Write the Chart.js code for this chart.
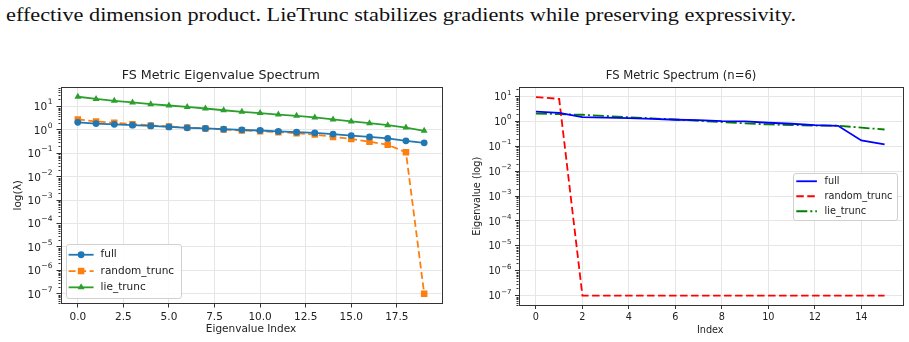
<!DOCTYPE html>
<html>
<head>
<meta charset="utf-8">
<script src="https://cdn.jsdelivr.net/npm/chart.js@4.4.0/dist/chart.umd.min.js"></script>
<style>
	html, body { margin: 0; padding: 0; background: #fff; }
	body { width: 909px; height: 342px; position: relative; overflow: hidden; }
	#caption { position: absolute; left: 6px; top: 4px; font-family: "Liberation Serif", "DejaVu Serif", serif; font-size: 19px; color: #111; white-space: nowrap; transform-origin: 0 0; }
	.box { position: absolute; top: 60px; height: 282px; }
	#left-box { left: 0; width: 460px; }
	#right-box { left: 460px; width: 449px; }
</style>
</head>
<body>
<div id="caption">effective dimension product. LieTrunc stabilizes gradients while preserving expressivity.</div>
<div class="box" id="left-box"><canvas id="spectrum-chart"></canvas></div>
<div class="box" id="right-box"><canvas id="n6-chart"></canvas></div>
<script>
// left panel: FS Metric Eigenvalue Spectrum
var leftIndex = [0, 1, 2, 3, 4, 5, 6, 7, 8, 9, 10, 11, 12, 13, 14, 15, 16, 17, 18, 19];
var leftFull = [2.1, 1.85, 1.72, 1.58, 1.47, 1.34, 1.22, 1.15, 1.07, 1.0, 0.94, 0.86, 0.8, 0.74, 0.66, 0.57, 0.5, 0.43, 0.34, 0.28];
var leftRandom = [2.8, 2.3, 2.0, 1.75, 1.55, 1.4, 1.25, 1.15, 1.03, 0.94, 0.87, 0.8, 0.72, 0.63, 0.5, 0.41, 0.31, 0.23, 0.11, 1e-7];
var leftLie = [26, 21, 17.4, 14.8, 12.5, 11, 9.6, 8.2, 6.9, 5.9, 5.2, 4.5, 4.0, 3.4, 2.8, 2.3, 1.94, 1.58, 1.26, 0.91];
var leftXTicks = [0, 2.5, 5, 7.5, 10, 12.5, 15, 17.5];

// right panel: FS Metric Spectrum (n=6)
var rightIndex = [0, 1, 2, 3, 4, 5, 6, 7, 8, 9, 10, 11, 12, 13, 14, 15];
var rightFull = [2.45, 2.2, 1.48, 1.42, 1.34, 1.25, 1.16, 1.12, 1.02, 1.0, 0.88, 0.8, 0.7, 0.66, 0.17, 0.12];
var rightRandom = [9.5, 8.0, 1e-7, 1e-7, 1e-7, 1e-7, 1e-7, 1e-7, 1e-7, 1e-7, 1e-7, 1e-7, 1e-7, 1e-7, 1e-7, 1e-7];
var rightLie = [2.05, 1.95, 1.84, 1.65, 1.47, 1.32, 1.19, 1.05, 0.93, 0.83, 0.75, 0.71, 0.68, 0.67, 0.56, 0.47];
var rightXTicks = [0, 2, 4, 6, 8, 10, 12, 14];

// shared log axis decades
var yTickExps = [-7, -6, -5, -4, -3, -2, -1, 0, 1];
var minorMantissa = [2, 3, 4, 5, 6, 7, 8, 9];

var FONT = '"DejaVu Sans", sans-serif';
var TEXT = '#222';

function points(xs, ys) {
	return ys.map(function (v, i) { return { x: xs[i], y: v }; });
}

// frame, minor log ticks and 10^n labels with a real superscript
var frame = {
	id: 'frame',
	afterDraw: function (chart, args, o) {
		var ctx = chart.ctx, a = chart.chartArea, y = chart.scales.y;
		ctx.save();
		ctx.strokeStyle = '#333';
		ctx.lineWidth = 1;
		ctx.strokeRect(Math.round(a.left) + 0.5, Math.round(a.top) + 0.5, Math.round(a.right - a.left), Math.round(a.bottom - a.top));
		ctx.beginPath();
		for (var k = -8; k <= 1; k++) {
			minorMantissa.forEach(function (m) {
				var v = m * Math.pow(10, k);
				if (v < y.min || v > y.max) return;
				var py = Math.round(y.getPixelForValue(v)) + 0.5;
				ctx.moveTo(a.left - 2, py);
				ctx.lineTo(a.left, py);
			});
		}
		ctx.stroke();

		var fs = o.fontSize, es = fs * 0.72;
		var right = a.left - o.tickLen - o.pad;
		ctx.fillStyle = TEXT;
		ctx.textBaseline = 'middle';
		ctx.textAlign = 'right';
		yTickExps.forEach(function (e) {
			var py = y.getPixelForValue(Math.pow(10, e));
			var ex = String(e).replace('-', '\u2212');
			ctx.font = es + 'px ' + FONT;
			var ew = ctx.measureText(ex).width;
			ctx.fillText(ex, right, py - fs * 0.38);
			ctx.font = fs + 'px ' + FONT;
			ctx.fillText('10', right - ew - 0.5, py + fs * 0.12);
		});
		ctx.restore();
	}
};

// matplotlib style legend box inside the plot
var boxLegend = {
	id: 'boxLegend',
	afterDraw: function (chart, args, o) {
		var ctx = chart.ctx, a = chart.chartArea, sets = chart.data.datasets;
		ctx.save();
		ctx.font = o.fontSize + 'px ' + FONT;
		var tw = 0;
		sets.forEach(function (d) { tw = Math.max(tw, ctx.measureText(d.label).width); });
		var w = o.padX + o.lineLen + o.gap + tw + o.padR;
		var h = o.padY * 2 + o.rowH * sets.length;
		var x = o.align === 'right' ? a.right - o.margin - w : a.left + o.margin;
		var y = o.valign === 'bottom' ? a.bottom - o.margin - h : (a.top + a.bottom) / 2 - h / 2;
		ctx.fillStyle = 'rgba(255,255,255,0.85)';
		ctx.strokeStyle = '#d0d0d0';
		ctx.lineWidth = 1;
		ctx.beginPath();
		ctx.roundRect(Math.round(x) + 0.5, Math.round(y) + 0.5, Math.round(w), Math.round(h), 2.5);
		ctx.fill();
		ctx.stroke();
		sets.forEach(function (d, i) {
			var cy = y + o.padY + o.rowH * (i + 0.5);
			var lx = x + o.padX;
			ctx.strokeStyle = d.borderColor;
			ctx.lineWidth = d.borderWidth;
			ctx.setLineDash(d.borderDash || []);
			ctx.beginPath();
			ctx.moveTo(lx, cy);
			ctx.lineTo(lx + o.lineLen, cy);
			ctx.stroke();
			ctx.setLineDash([]);
			if (d.pointRadius > 0) {
				ctx.fillStyle = d.borderColor;
				Chart.helpers.drawPoint(ctx, { pointStyle: d.pointStyle, radius: d.pointRadius, borderWidth: 0 }, lx + o.lineLen / 2, cy);
			}
			ctx.fillStyle = TEXT;
			ctx.textBaseline = 'middle';
			ctx.textAlign = 'left';
			ctx.fillText(d.label, lx + o.lineLen + o.gap, cy);
		});
		ctx.restore();
	}
};

function makeOptions(p) {
	return {
		responsive: true,
		maintainAspectRatio: false,
		animation: false,
		layout: { padding: { left: 0, right: p.padRight, top: 0, bottom: 0 } },
		plugins: {
			legend: { display: false },
			tooltip: { enabled: false },
			title: {
				display: true,
				text: p.title,
				color: TEXT,
				font: { family: FONT, size: p.titleSize, weight: 'normal', lineHeight: 1.2 },
				padding: { top: p.titleTop, bottom: p.titleBottom }
			},
			boxLegend: p.legend,
			frame: { fontSize: p.fontSize, tickLen: p.tickLen, pad: p.yPad }
		},
		scales: {
			x: {
				type: 'linear',
				min: p.xMin,
				max: p.xMax,
				afterBuildTicks: function (s) { s.ticks = p.xTicks.map(function (v) { return { value: v }; }); },
				afterFit: function (s) { s.height = p.xHeight; },
				grid: { color: '#e6e6e6', tickColor: '#333', tickLength: p.tickLen, drawTicks: true },
				border: { display: false },
				ticks: {
					autoSkip: false, maxRotation: 0, padding: p.xPad, color: TEXT,
					font: { family: FONT, size: p.fontSize },
					callback: function (v) { return p.xFmt(v); }
				},
				title: {
					display: true, text: p.xTitle, color: TEXT,
					font: { family: FONT, size: p.fontSize, lineHeight: 1.2 },
					padding: { top: 0, bottom: p.xTitlePad }
				}
			},
			y: {
				type: 'logarithmic',
				min: p.yMin,
				max: p.yMax,
				afterBuildTicks: function (s) { s.ticks = yTickExps.map(function (e) { return { value: Math.pow(10, e) }; }); },
				afterFit: function (s) { s.width = p.yWidth; },
				grid: { color: '#e6e6e6', tickColor: '#333', tickLength: p.tickLen, drawTicks: true },
				border: { display: false },
				ticks: {
					// labels are painted by the frame plugin (base + superscript)
					autoSkip: false, padding: p.yPad, color: 'rgba(0,0,0,0)',
					font: { family: FONT, size: p.fontSize },
					callback: function (v) { return '10^' + Math.round(Math.log10(v)); }
				},
				title: {
					display: true, text: p.yTitle, color: TEXT,
					font: { family: FONT, size: p.fontSize, lineHeight: 1.2 },
					padding: { top: p.yTitlePad, bottom: 0 }
				}
			}
		}
	};
}

new Chart(document.getElementById('spectrum-chart'), {
	type: 'line',
	plugins: [frame, boxLegend],
	data: {
		datasets: [
			{
				label: 'full', data: points(leftIndex, leftFull),
				borderColor: '#1f77b4', backgroundColor: '#1f77b4', borderWidth: 1.8,
				pointStyle: 'circle', pointRadius: 3.4, pointBackgroundColor: '#1f77b4', pointBorderWidth: 0, tension: 0
			},
			{
				label: 'random_trunc', data: points(leftIndex, leftRandom),
				borderColor: '#ff7f0e', backgroundColor: '#ff7f0e', borderWidth: 1.8, borderDash: [7, 3.5],
				pointStyle: 'rect', pointRadius: 4.6, pointBackgroundColor: '#ff7f0e', pointBorderWidth: 0, tension: 0
			},
			{
				label: 'lie_trunc', data: points(leftIndex, leftLie),
				borderColor: '#2ca02c', backgroundColor: '#2ca02c', borderWidth: 1.8,
				pointStyle: 'triangle', pointRadius: 4, pointBackgroundColor: '#2ca02c', pointBorderWidth: 0, tension: 0
			}
		]
	},
	options: makeOptions({
		title: 'FS Metric Eigenvalue Spectrum', titleSize: 12.7, titleTop: 8.4, titleBottom: 3.4,
		padRight: 18.5, fontSize: 10.5, tickLen: 4,
		xMin: -0.95, xMax: 19.95, xTicks: leftXTicks, xFmt: function (v) { return v.toFixed(1); },
		xHeight: 38.5, xPad: 3.2, xTitle: 'Eigenvalue Index', xTitlePad: 6.7,
		yMin: Math.pow(10, -7.42), yMax: Math.pow(10, 1.83), yWidth: 60.5, yPad: 4,
		yTitle: 'log(\u03BB)', yTitlePad: 11.7,
		legend: { fontSize: 10.5, align: 'left', valign: 'bottom', margin: 5.5, padX: 2.6, lineLen: 25, gap: 7, padR: 7, padY: 2.5, rowH: 16.3 }
	})
});

new Chart(document.getElementById('n6-chart'), {
	type: 'line',
	plugins: [frame, boxLegend],
	data: {
		datasets: [
			{
				label: 'full', data: points(rightIndex, rightFull),
				borderColor: '#0000ff', borderWidth: 1.8, pointRadius: 0, tension: 0
			},
			{
				label: 'random_trunc', data: points(rightIndex, rightRandom),
				borderColor: '#ff0000', borderWidth: 1.8, borderDash: [7.5, 3.5], pointRadius: 0, tension: 0
			},
			{
				label: 'lie_trunc', data: points(rightIndex, rightLie),
				borderColor: '#008000', borderWidth: 1.8, borderDash: [11, 3, 2, 3], pointRadius: 0, tension: 0
			}
		]
	},
	options: makeOptions({
		title: 'FS Metric Spectrum (n=6)', titleSize: 11.6, titleTop: 9, titleBottom: 4.1,
		padRight: 7, fontSize: 9.7, tickLen: 3.5,
		xMin: -0.75, xMax: 15.75, xTicks: rightXTicks, xFmt: function (v) { return String(v); },
		xHeight: 36.5, xPad: 2.2, xTitle: 'Index', xTitlePad: 5.5,
		yMin: Math.pow(10, -7.4), yMax: Math.pow(10, 1.38), yWidth: 58.5, yPad: 3.5,
		yTitle: 'Eigenvalue (log)', yTitlePad: 11.5,
		legend: { fontSize: 9.7, align: 'right', valign: 'center', margin: 5, padX: 3.4, lineLen: 20.6, gap: 7.7, padR: 4.6, padY: 1.2, rowH: 15 }
	})
});

// stretch the caption to the width of the original serif line
var cap = document.getElementById('caption');
cap.style.transform = 'scaleX(' + (790 / cap.offsetWidth) + ')';
</script>
</body>
</html>
